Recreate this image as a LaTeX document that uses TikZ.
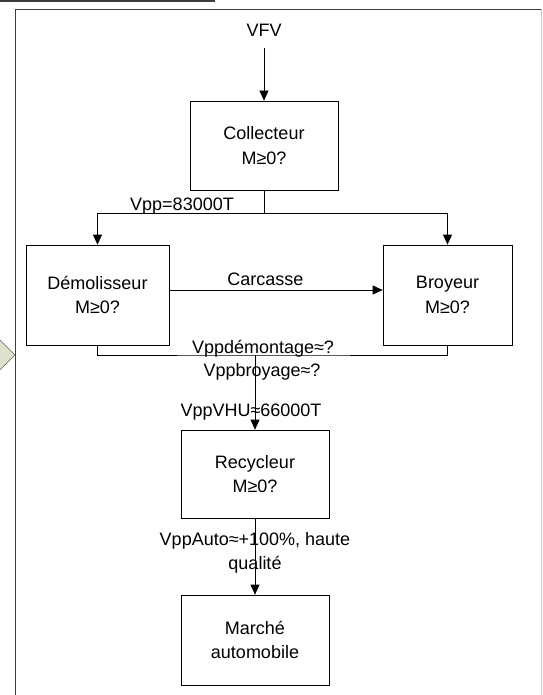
\documentclass[tikz,border=0pt]{standalone}
\usepackage{fontspec}
\setmainfont{Liberation Sans}
\usepackage{tikz}
\usetikzlibrary{shapes.geometric, positioning, arrows.meta}
\definecolor{FrGris}{RGB}{60,60,60}
\definecolor{FrClair}{RGB}{200,200,200}
\definecolor{FrSauge}{RGB}{222,225,204}

\begin{document}
\begin{tikzpicture}[x=1pt, y=-1pt,
      acteur/.style={rectangle, draw, line width=0.7pt,
                     minimum width=148pt, minimum height=90pt,
                     font=\fontsize{18}{24.5}\selectfont, align=center},
      fl/.style={-{Triangle[length=10pt, width=9pt]}, line width=0.7pt},
      trait/.style={line width=0.7pt},
      lbl/.style={font=\fontsize{18}{24.5}\selectfont, align=center, inner sep=0pt}
    ]
    \useasboundingbox (0,0) rectangle (542,695);
    \clip (0,0) rectangle (542,695);

    % cadre
    \draw[line width=2pt, FrGris] (0,1) -- (215,1);
    \draw[line width=1pt, FrGris] (15,700) -- (15,9.5) -- (541,9.5);
    \draw[line width=1pt, FrClair] (541,9.5) -- (541,700);
    \node[diamond, draw=FrGris, fill=FrSauge, minimum size=60pt, inner sep=0pt] (entree) at (-15,355) {};

    \node[lbl] (vfv) at (264,30) {VFV};
    \node[acteur, minimum height=89pt] (col) at (264,145.5) {Collecteur\\M≥0?};
    \node[acteur, minimum width=143pt, minimum height=100pt] (dem) at (97.5,295) {Démolisseur\\M≥0?};
    \node[acteur, minimum width=129pt, minimum height=100pt] (broy) at (447.5,295) {Broyeur\\M≥0?};
    \node[acteur, minimum height=88pt] (rec) at (255,474) {Recycleur\\M≥0?};
    \node[acteur] (mar) at (255,640) {Marché\\automobile};

    \coordinate (split) at (264,213);
    \coordinate (merge) at (255,355);

    % flux
    \draw[fl] ([yshift=-12pt]vfv.south) -- (col);
    \draw[trait] (col) -- (split);
    \draw[fl] (split) -| (dem);
    \draw[fl] (split) -| (broy);
    \node[lbl] (vpp) at (182,206) {Vpp=83000T};
    \draw[fl] ([yshift=5pt]dem.east) -- node[lbl, above=4pt, pos=0.45]{Carcasse} ([yshift=5pt]broy.west);
    \draw[trait] (dem) |- (merge) -| (broy);
    \draw[fl] (merge) -- (rec);
    \node[lbl] (vdem) at (263,349) {Vppdémontage≈?};
    \node[lbl] (vbroy) at (262,372) {Vppbroyage≈?};
    \node[lbl] (vvhu) at (251,412) {VppVHU≈66000T};
    \draw[fl] (rec) -- (mar);
    \node[lbl] (vauto) at (255,553) {VppAuto≈+100\%, haute\\qualité};
  \end{tikzpicture}
\end{document}
